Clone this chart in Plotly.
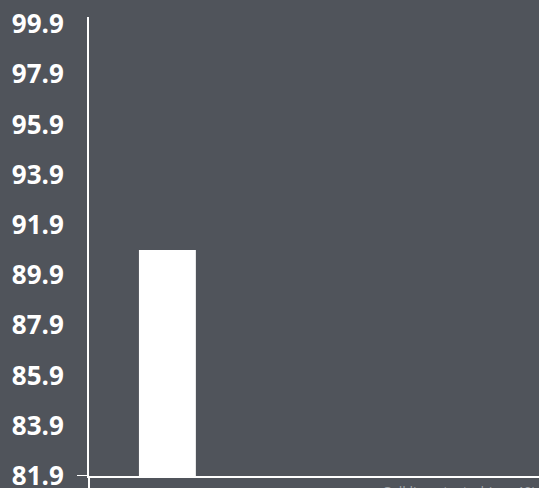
import plotly.graph_objects as go

categories = ["Cell lines"]
values = [90.9]
tick_values = [81.9, 83.9, 85.9, 87.9, 89.9, 91.9, 93.9, 95.9, 97.9, 99.9]
tick_labels = ["81.9", "83.9", "85.9", "87.9", "89.9", "91.9", "93.9", "95.9", "97.9", "99.9"]

bg = "#50545b"
W, H = 539, 488
ml, mr, mt, mb = 89, 0, 17, 12
ph = H - mt - mb
y_min = 81.9
px_per_unit = 25.11
y_max = y_min + ph / px_per_unit

fig = go.Figure()
fig.add_trace(go.Bar(
    x=categories, y=values, width=0.363,
    marker=dict(color="#ffffff", line=dict(width=0)),
    hoverinfo="skip",
))

fig.update_layout(
    width=W, height=H,
    margin=dict(l=ml, r=mr, t=mt, b=mb, pad=0, autoexpand=False),
    paper_bgcolor=bg, plot_bgcolor=bg,
    showlegend=False,
    font=dict(family="Open Sans", color="#ffffff"),
    xaxis=dict(
        type="category", range=[-0.5, 2.37], automargin=False,
        showgrid=False, zeroline=False, showticklabels=False,
        showline=True, linecolor="#ffffff", linewidth=2, ticks="",
    ),
    yaxis=dict(
        range=[y_min, y_max], automargin=False,
        tickvals=tick_values, ticktext=tick_labels,
        showgrid=False, zeroline=False,
        showline=True, linecolor="#ffffff", linewidth=2, ticks="",
        ticklabelstandoff=18,
        ticklabeloverflow="allow",
        tickfont=dict(family="Open Sans", size=26, color="#ffffff", weight="bold"),
    ),
    shapes=[
        dict(type="line", xref="paper", yref="y", x0=-12 / (W - ml), x1=0,
             y0=y_min, y1=y_min, line=dict(color="#ffffff", width=2)),
        dict(type="line", xref="paper", yref="paper", x0=0, x1=0,
             y0=0, y1=-mb / ph, line=dict(color="#ffffff", width=2)),
    ],
    annotations=[
        dict(text="Cell lines tested (n = 40)", xref="paper", yref="paper",
             x=(380 - ml) / (W - ml), y=-(480 - (H - mb)) / ph,
             xanchor="left", yanchor="top", showarrow=False,
             font=dict(family="Open Sans", size=14, color="#a0a4aa")),
    ],
)

fig.write_html(
    "out.html",
    config={"displayModeBar": False},
    post_script="document.body.style.margin='0';document.body.style.background='%s';" % bg,
)
